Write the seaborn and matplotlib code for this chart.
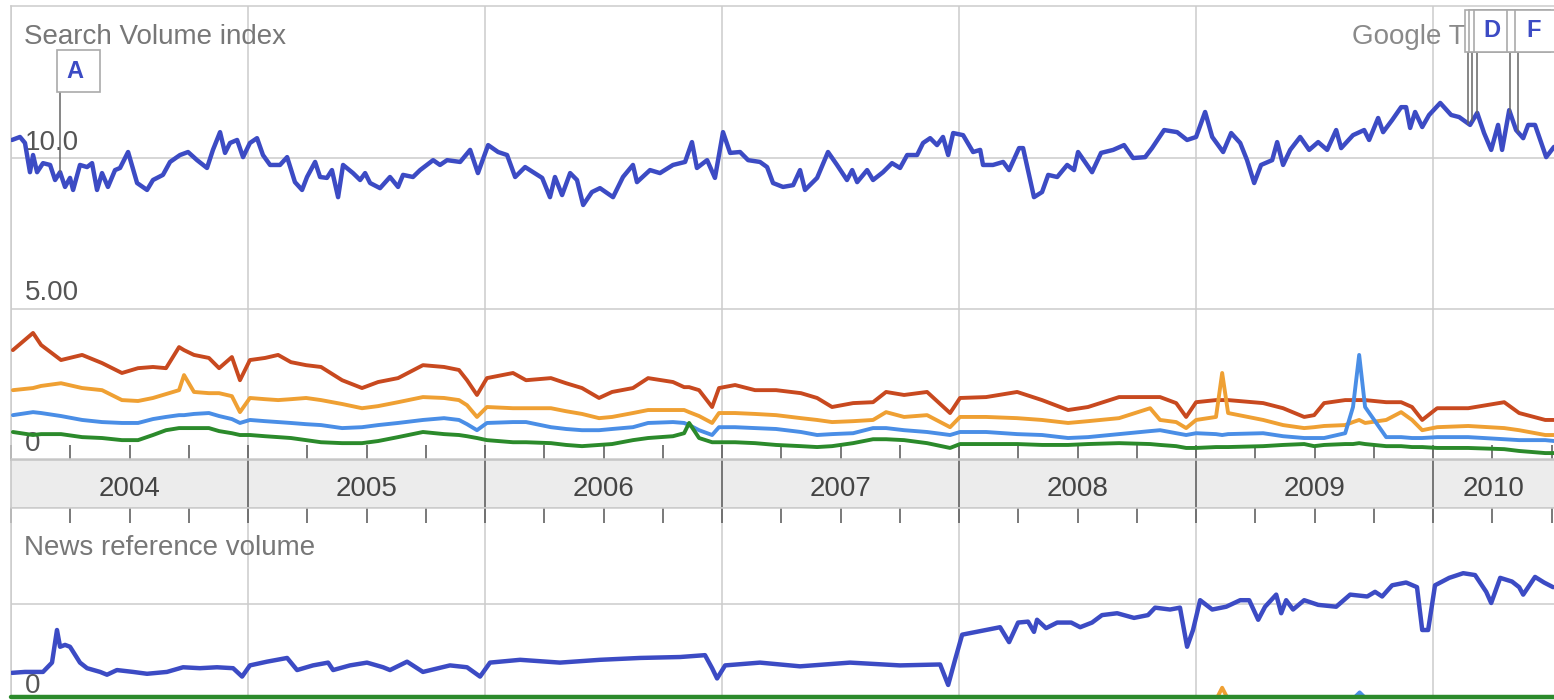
import numpy as np
import matplotlib
matplotlib.use("Agg")
import matplotlib.pyplot as plt
from matplotlib.patches import Rectangle
from matplotlib.ticker import MultipleLocator
import seaborn as sns

# series colours (old Google Trends palette)
BLUE = "#3c4bc4"
RED = "#c8491f"
ORANGE = "#efa033"
LIGHT_BLUE = "#4a8ee6"
GREEN = "#2b8a2b"
GRID = "#cccccc"

# --- Search Volume index, main term (decimal years / index value) ---
SEARCH_T = [
    2004.004, 2004.038, 2004.059, 2004.080, 2004.093, 2004.110, 2004.135, 2004.165, 2004.186, 2004.207,
    2004.228, 2004.249, 2004.262, 2004.291, 2004.321, 2004.342, 2004.363, 2004.384, 2004.409, 2004.439,
    2004.460, 2004.494, 2004.532, 2004.574, 2004.599, 2004.641, 2004.671, 2004.713, 2004.747, 2004.785,
    2004.827, 2004.852, 2004.882, 2004.903, 2004.924, 2004.954, 2004.979,
    2005.008, 2005.038, 2005.063, 2005.093, 2005.135, 2005.165, 2005.198, 2005.228, 2005.249, 2005.283,
    2005.304, 2005.333, 2005.354, 2005.380, 2005.401, 2005.443, 2005.473, 2005.494, 2005.515, 2005.557,
    2005.599, 2005.633, 2005.654, 2005.696, 2005.726, 2005.781, 2005.810, 2005.840, 2005.895, 2005.937,
    2005.970,
    2006.013, 2006.055, 2006.093, 2006.127, 2006.169, 2006.203, 2006.241, 2006.274, 2006.295, 2006.325,
    2006.359, 2006.388, 2006.414, 2006.451, 2006.485, 2006.540, 2006.582, 2006.624, 2006.641, 2006.696,
    2006.738, 2006.793, 2006.844, 2006.873, 2006.894, 2006.937, 2006.970,
    2007.004, 2007.034, 2007.076, 2007.110, 2007.160, 2007.190, 2007.215, 2007.257, 2007.300, 2007.329,
    2007.350, 2007.401, 2007.447, 2007.485, 2007.527, 2007.549, 2007.570, 2007.612, 2007.637, 2007.679,
    2007.717, 2007.751, 2007.781, 2007.823, 2007.848, 2007.878, 2007.907, 2007.932, 2007.954, 2007.975,
    2008.017, 2008.059, 2008.089, 2008.101, 2008.143, 2008.186, 2008.211, 2008.253, 2008.270, 2008.316,
    2008.350, 2008.376, 2008.414, 2008.456, 2008.485, 2008.502, 2008.561, 2008.599, 2008.650, 2008.696,
    2008.734, 2008.785, 2008.814, 2008.865, 2008.920, 2008.962,
    2009.000, 2009.038, 2009.068, 2009.114, 2009.148, 2009.186, 2009.215, 2009.245, 2009.274, 2009.321,
    2009.342, 2009.367, 2009.397, 2009.439, 2009.477, 2009.515, 2009.553, 2009.591, 2009.612, 2009.662,
    2009.709, 2009.730, 2009.768, 2009.789, 2009.827, 2009.865, 2009.886, 2009.903, 2009.924, 2009.954,
    2009.983,
    2010.030, 2010.076, 2010.110, 2010.156, 2010.186, 2010.215, 2010.245, 2010.274, 2010.291, 2010.321,
    2010.350, 2010.380, 2010.401, 2010.430, 2010.477, 2010.510,
]
SEARCH_V = [
    10.60, 10.70, 10.50, 9.53, 10.10, 9.53, 9.83, 9.77, 9.27, 9.53,
    9.04, 9.34, 8.94, 9.77, 9.70, 9.83, 8.94, 9.50, 9.04, 9.60,
    9.67, 10.20, 9.17, 8.94, 9.27, 9.44, 9.87, 10.10, 10.20, 9.93,
    9.67, 10.27, 10.86, 10.17, 10.50, 10.60, 10.03,
    10.50, 10.66, 10.10, 9.77, 9.77, 10.03, 9.20, 8.94, 9.37, 9.87,
    9.37, 9.34, 9.60, 8.70, 9.77, 9.50, 9.27, 9.50, 9.17, 9.00,
    9.37, 9.04, 9.44, 9.37, 9.60, 9.93, 9.77, 9.93, 9.87, 10.27,
    9.50,
    10.43, 10.20, 10.10, 9.37, 9.70, 9.53, 9.34, 8.70, 9.37, 8.77,
    9.50, 9.27, 8.44, 8.87, 9.00, 8.70, 9.37, 9.77, 9.20, 9.60,
    9.50, 9.77, 9.87, 10.53, 9.67, 9.93, 9.34,
    10.86, 10.17, 10.20, 9.93, 9.87, 9.70, 9.17, 9.04, 9.10, 9.60,
    8.94, 9.34, 10.20, 9.77, 9.27, 9.60, 9.20, 9.60, 9.27, 9.53,
    9.83, 9.67, 10.10, 10.10, 10.50, 10.66, 10.43, 10.70, 10.10, 10.83,
    10.76, 10.20, 10.27, 9.77, 9.77, 9.87, 9.60, 10.33, 10.33, 8.70,
    8.87, 9.44, 9.37, 9.77, 9.60, 10.20, 9.53, 10.17, 10.27, 10.43,
    10.00, 10.03, 10.33, 10.93, 10.86, 10.60,
    10.70, 11.53, 10.70, 10.20, 10.83, 10.50, 9.93, 9.17, 9.77, 9.93,
    10.53, 9.77, 10.27, 10.70, 10.27, 10.53, 10.27, 10.93, 10.33, 10.76,
    10.93, 10.60, 11.33, 10.86, 11.26, 11.69, 11.69, 11.00, 11.53, 11.03,
    11.43,
    11.83, 11.43, 11.36, 11.10, 11.50, 10.83, 10.27, 11.10, 10.27, 11.59,
    10.93, 10.66, 11.10, 11.10, 10.03, 10.37,
]

# --- the four smaller terms, sampled on one shared date list ---
LOW_T = [
    2004.008, 2004.093, 2004.127, 2004.211, 2004.300, 2004.384, 2004.468, 2004.536, 2004.599, 2004.654,
    2004.709, 2004.730, 2004.772, 2004.835, 2004.878, 2004.932, 2004.966,
    2005.008, 2005.072, 2005.127, 2005.181, 2005.245, 2005.308, 2005.397, 2005.481, 2005.549, 2005.633,
    2005.738, 2005.827, 2005.890, 2005.924, 2005.966,
    2006.008, 2006.118, 2006.173, 2006.278, 2006.342, 2006.409, 2006.481, 2006.536, 2006.624, 2006.688,
    2006.793, 2006.840, 2006.861, 2006.903, 2006.958, 2006.987,
    2007.055, 2007.139, 2007.228, 2007.333, 2007.401, 2007.464, 2007.553, 2007.637, 2007.692, 2007.768,
    2007.865, 2007.962,
    2008.004, 2008.114, 2008.245, 2008.350, 2008.460, 2008.544, 2008.675, 2008.806, 2008.848, 2008.916,
    2008.958,
    2009.000, 2009.084, 2009.110, 2009.135, 2009.283, 2009.367, 2009.456, 2009.498, 2009.540, 2009.629,
    2009.662, 2009.688, 2009.713, 2009.802, 2009.865, 2009.911, 2009.954,
    2010.017, 2010.148, 2010.300, 2010.363, 2010.473, 2010.511,
]
RED_V = [
    3.62, 4.19, 3.79, 3.29, 3.46, 3.19, 2.86, 3.02, 3.06, 3.02, 3.72, 3.62, 3.46, 3.36, 3.02, 3.39, 2.62,
    3.29, 3.36, 3.46, 3.22, 3.12, 3.06, 2.62, 2.36, 2.56, 2.69, 3.12, 3.06, 2.96, 2.62, 2.13,
    2.69, 2.86, 2.62, 2.69, 2.52, 2.36, 2.03, 2.23, 2.36, 2.69, 2.56, 2.39, 2.39, 2.29, 1.73, 2.36,
    2.46, 2.29, 2.29, 2.19, 2.03, 1.73, 1.86, 1.89, 2.23, 2.13, 2.23, 1.53,
    2.03, 2.06, 2.23, 1.96, 1.63, 1.73, 2.06, 2.06, 2.06, 1.86, 1.40,
    1.89, 1.96, 1.96, 1.96, 1.86, 1.69, 1.40, 1.46, 1.86, 1.96, 1.96, 1.96, 1.96, 1.89, 1.89, 1.73, 1.30,
    1.69, 1.69, 1.89, 1.53, 1.30, 1.30,
]
ORANGE_V = [
    2.29, 2.36, 2.43, 2.52, 2.36, 2.29, 1.96, 1.93, 2.03, 2.16, 2.29, 2.79, 2.23, 2.19, 2.19, 2.09, 1.56,
    2.03, 1.99, 1.96, 1.99, 2.03, 1.96, 1.83, 1.69, 1.76, 1.89, 2.06, 2.03, 1.96, 1.79, 1.40,
    1.73, 1.69, 1.69, 1.69, 1.59, 1.50, 1.36, 1.40, 1.53, 1.63, 1.63, 1.63, 1.56, 1.43, 1.20, 1.53,
    1.53, 1.50, 1.46, 1.36, 1.30, 1.23, 1.26, 1.30, 1.56, 1.40, 1.46, 1.06,
    1.40, 1.40, 1.36, 1.30, 1.20, 1.26, 1.36, 1.69, 1.30, 1.23, 1.03,
    1.30, 1.40, 2.86, 1.53, 1.30, 1.13, 1.03, 1.06, 1.10, 1.13, 1.23, 1.30, 1.20, 1.30, 1.56, 1.30, 0.96,
    1.06, 1.10, 1.03, 0.96, 0.80, 0.80,
]
LIGHT_BLUE_V = [
    1.46, 1.56, 1.53, 1.43, 1.30, 1.23, 1.20, 1.20, 1.33, 1.40, 1.46, 1.46, 1.50, 1.53, 1.43, 1.33, 1.20,
    1.30, 1.26, 1.23, 1.20, 1.16, 1.13, 1.03, 1.06, 1.13, 1.20, 1.30, 1.36, 1.30, 1.16, 0.96,
    1.20, 1.23, 1.23, 1.06, 1.00, 0.96, 0.96, 1.00, 1.06, 1.20, 1.23, 1.20, 1.13, 0.96, 0.80, 1.06,
    1.06, 1.03, 1.00, 0.90, 0.80, 0.83, 0.86, 1.03, 1.03, 0.96, 0.90, 0.80,
    0.90, 0.90, 0.83, 0.80, 0.70, 0.73, 0.83, 0.93, 0.96, 0.86, 0.80,
    0.86, 0.83, 0.80, 0.83, 0.86, 0.76, 0.70, 0.70, 0.70, 0.86, 1.73, 3.46, 1.73, 0.73, 0.73, 0.70, 0.70,
    0.73, 0.73, 0.66, 0.63, 0.63, 0.60,
]
GREEN_V = [
    0.90, 0.80, 0.83, 0.83, 0.73, 0.70, 0.63, 0.63, 0.80, 0.96, 1.03, 1.03, 1.03, 1.03, 0.93, 0.86, 0.80,
    0.80, 0.76, 0.73, 0.70, 0.63, 0.56, 0.53, 0.53, 0.60, 0.73, 0.90, 0.83, 0.80, 0.76, 0.70,
    0.63, 0.56, 0.56, 0.53, 0.47, 0.43, 0.47, 0.50, 0.63, 0.70, 0.76, 0.86, 1.20, 0.70, 0.56, 0.56,
    0.56, 0.53, 0.47, 0.43, 0.40, 0.43, 0.53, 0.66, 0.66, 0.63, 0.53, 0.37,
    0.50, 0.50, 0.50, 0.47, 0.47, 0.50, 0.53, 0.50, 0.47, 0.43, 0.37,
    0.37, 0.40, 0.40, 0.40, 0.43, 0.47, 0.50, 0.43, 0.47, 0.50, 0.50, 0.53, 0.50, 0.43, 0.43, 0.40, 0.40,
    0.37, 0.37, 0.33, 0.27, 0.20, 0.20,
]

# --- News reference volume ---
NEWS_T = [
    2004.004, 2004.059, 2004.135, 2004.173, 2004.194, 2004.207, 2004.228, 2004.249, 2004.291, 2004.321,
    2004.376, 2004.405, 2004.447, 2004.515, 2004.574, 2004.658, 2004.726, 2004.797, 2004.869, 2004.937,
    2004.975,
    2005.008, 2005.080, 2005.165, 2005.207, 2005.274, 2005.338, 2005.359, 2005.430, 2005.502, 2005.570,
    2005.599, 2005.671, 2005.738, 2005.852, 2005.924, 2005.979,
    2006.021, 2006.063, 2006.148, 2006.316, 2006.485, 2006.654, 2006.823, 2006.928, 2006.958, 2006.979,
    2007.013, 2007.160, 2007.329, 2007.540, 2007.751, 2007.920, 2007.954, 2007.983,
    2008.013, 2008.173, 2008.211, 2008.249, 2008.291, 2008.316, 2008.329, 2008.367, 2008.414, 2008.473,
    2008.511, 2008.561, 2008.603, 2008.667, 2008.738, 2008.797, 2008.827, 2008.890, 2008.932, 2008.962,
    2008.987,
    2009.017, 2009.068, 2009.127, 2009.186, 2009.224, 2009.262, 2009.291, 2009.338, 2009.359, 2009.380,
    2009.409, 2009.456, 2009.515, 2009.591, 2009.650, 2009.722, 2009.755, 2009.785, 2009.827, 2009.886,
    2009.932, 2009.954, 2009.979,
    2010.008, 2010.068, 2010.127, 2010.177, 2010.224, 2010.245, 2010.283, 2010.333, 2010.363, 2010.380,
    2010.430, 2010.468, 2010.506,
]
NEWS_V = [
    0.26, 0.27, 0.27, 0.37, 0.72, 0.54, 0.56, 0.54, 0.37, 0.31,
    0.27, 0.24, 0.29, 0.27, 0.25, 0.27, 0.32, 0.31, 0.32, 0.31,
    0.22,
    0.34, 0.38, 0.42, 0.29, 0.34, 0.37, 0.29, 0.34, 0.37, 0.32,
    0.29, 0.38, 0.27, 0.34, 0.32, 0.22,
    0.37, 0.38, 0.40, 0.37, 0.40, 0.42, 0.43, 0.45, 0.31, 0.20,
    0.34, 0.37, 0.33, 0.37, 0.34, 0.35, 0.13, 0.40,
    0.67, 0.75, 0.59, 0.80, 0.81, 0.70, 0.83, 0.74, 0.80, 0.80,
    0.75, 0.80, 0.88, 0.90, 0.85, 0.88, 0.96, 0.94, 0.96, 0.54,
    0.72,
    1.04, 0.94, 0.97, 1.04, 1.04, 0.83, 0.97, 1.10, 0.90, 1.04,
    0.94, 1.04, 0.99, 0.97, 1.10, 1.08, 1.13, 1.08, 1.20, 1.23,
    1.18, 0.72, 0.72,
    1.20, 1.28, 1.33, 1.31, 1.13, 1.01, 1.28, 1.24, 1.18, 1.10,
    1.29, 1.23, 1.18,
]
NEWS_SMALL_T = [2004.0, 2009.09, 2009.11, 2009.13, 2009.67, 2009.69, 2009.71, 2010.51]
NEWS_ORANGE_V = [0.0, 0.0, 0.10, 0.0, 0.0, 0.0, 0.0, 0.0]
NEWS_LIGHT_BLUE_V = [0.0, 0.0, 0.0, 0.0, 0.0, 0.05, 0.0, 0.0]
NEWS_GREEN_V = [0.0, 0.0, 0.0, 0.0, 0.0, 0.0, 0.0, 0.0]

# event flags
FLAG_LETTERS = ["A", "B", "C", "D", "E", "F"]
FLAG_DATES = [2004.207, 2010.148, 2010.165, 2010.186, 2010.325, 2010.359]
FLAG_LEVELS = [0, 1, 1, 1, 1, 1]

SEARCH_TICKS = [0, 5, 10]
SEARCH_TICK_LABELS = ["0", "5.00", "10.0"]
YEARS = [2004, 2005, 2006, 2007, 2008, 2009, 2010]
X_MIN, X_MAX = 2004.0, 2010.51

sns.set_style("white")
plt.rcParams["font.family"] = ["Liberation Sans", "DejaVu Sans"]

W, H = 1554, 700
fig = plt.figure(figsize=(W / 100, H / 100), dpi=100)


def px_axes(left, top, right, bottom):
    return fig.add_axes([left / W, 1 - bottom / H, (right - left) / W, (bottom - top) / H])


ax_top = px_axes(11, 6, 1554, 460)
ax_band = px_axes(11, 460, 1554, 508)
ax_news = px_axes(11, 508, 1554, 698)


def style_panel(ax, tick_side):
    ax.set_xlim(X_MIN, X_MAX)
    ax.xaxis.set_major_locator(MultipleLocator(1))
    ax.xaxis.set_minor_locator(MultipleLocator(0.25))
    ax.grid(True, which="major", color=GRID, lw=1.1)
    ax.tick_params(axis="x", which="both", direction="in", length=10.5, width=1.1,
                   color="#555555", labelbottom=False, labeltop=False,
                   bottom=(tick_side == "bottom"), top=(tick_side == "top"))
    ax.tick_params(axis="y", length=0, labelleft=False)
    for side in ["top", "left", "bottom"]:
        ax.spines[side].set_color(GRID)
        ax.spines[side].set_linewidth(1.1)
    ax.spines["right"].set_visible(False)
    ax.set_xlabel("")
    ax.set_ylabel("")


# top panel: search volume
for vals, col, z in [(RED_V, RED, 3), (ORANGE_V, ORANGE, 3.1),
                     (LIGHT_BLUE_V, LIGHT_BLUE, 3.2), (GREEN_V, GREEN, 3.3)]:
    sns.lineplot(x=LOW_T, y=vals, ax=ax_top, color=col, linewidth=2.8,
                 estimator=None, sort=False, zorder=z)
sns.lineplot(x=SEARCH_T, y=SEARCH_V, ax=ax_top, color=BLUE, linewidth=3.2,
             estimator=None, sort=False, zorder=3.5)

ax_top.set_ylim(-0.03, 15.05)
ax_top.set_yticks(SEARCH_TICKS)
style_panel(ax_top, "bottom")

ytrans = ax_top.get_yaxis_transform()
for v, lab in zip(SEARCH_TICKS, SEARCH_TICK_LABELS):
    ax_top.text(0.009, v + 0.27, lab, transform=ytrans, fontsize=20,
                color="#555555", va="baseline", zorder=2)
ax_top.text(0.0085, 0.916, "Search Volume index", transform=ax_top.transAxes,
            fontsize=20, color="#777777", va="baseline", zorder=2)

# flags with poles down to the line
FLAG_BASE = [12.19, 13.52]
FLAG_W, FLAG_H = 0.181, 1.40
flag_lefts = [t - 0.012 for t in FLAG_DATES]

# the brand text runs under the flag stack; clip it where the first flag starts
brand = ax_top.text(0.869, 0.916, "Google Trends", transform=ax_top.transAxes,
                    fontsize=20, color="#8a8a8a", va="baseline", zorder=4)
clip = Rectangle((X_MIN, 0), flag_lefts[1] - X_MIN, 15.05, transform=ax_top.transData,
                 visible=False)
ax_top.add_patch(clip)
brand.set_clip_path(clip)

for i, (letter, t, level) in enumerate(zip(FLAG_LETTERS, FLAG_DATES, FLAG_LEVELS)):
    base = FLAG_BASE[level]
    left = flag_lefts[i]
    ax_top.plot([t, t], [np.interp(t, SEARCH_T, SEARCH_V), base],
                color="#666666", lw=1.1, zorder=4)
    ax_top.add_patch(Rectangle((left, base), FLAG_W, FLAG_H, facecolor="white",
                               edgecolor="#aaaaaa", lw=1.2, zorder=5 + 2 * i))
    # a flag almost fully covered by the next one shows only its edge
    covered = (i + 1 < len(FLAG_DATES) and FLAG_LEVELS[i + 1] == level
               and flag_lefts[i + 1] - left < FLAG_W * 0.5)
    if not covered:
        ax_top.text(left + FLAG_W * 0.42, base + FLAG_H / 2, letter, ha="center",
                    va="center", fontsize=17, fontweight="bold", color=BLUE,
                    zorder=6 + 2 * i)

# year band
ax_band.set_facecolor("#ececec")
ax_band.set_xlim(X_MIN, X_MAX)
ax_band.set_ylim(0, 1)
ax_band.set_xticks([])
ax_band.set_yticks([])
for side in ["top", "left", "bottom"]:
    ax_band.spines[side].set_color("#c4c4c4")
    ax_band.spines[side].set_linewidth(1.1)
ax_band.spines["right"].set_visible(False)
ax_band.vlines(YEARS[1:], 0, 1, color="#555555", lw=1.1)
for y in YEARS:
    lo, hi = max(y, X_MIN), min(y + 1, X_MAX)
    ax_band.text((lo + hi) / 2, 0.25, str(y), ha="center", va="baseline",
                 fontsize=20, color="#444444")

# bottom panel: news reference volume
sns.lineplot(x=NEWS_SMALL_T, y=NEWS_ORANGE_V, ax=ax_news, color=ORANGE, linewidth=2.8,
             estimator=None, sort=False, zorder=3)
sns.lineplot(x=NEWS_SMALL_T, y=NEWS_LIGHT_BLUE_V, ax=ax_news, color=LIGHT_BLUE, linewidth=2.8,
             estimator=None, sort=False, zorder=3.1)
sns.lineplot(x=NEWS_SMALL_T, y=NEWS_GREEN_V, ax=ax_news, color=GREEN, linewidth=3.2,
             estimator=None, sort=False, zorder=3.2, clip_on=False)
sns.lineplot(x=NEWS_T, y=NEWS_V, ax=ax_news, color=BLUE, linewidth=3.2,
             estimator=None, sort=False, zorder=3.5)
ax_news.set_ylim(-0.01, 2.03)
ax_news.set_yticks([0, 1])
style_panel(ax_news, "top")
ax_news.text(0.009, 0.04, "0", transform=ax_news.get_yaxis_transform(), fontsize=20,
             color="#555555", va="baseline", zorder=2)
ax_news.text(0.0085, 0.753, "News reference volume", transform=ax_news.transAxes,
             fontsize=20, color="#777777", va="baseline", zorder=2)

fig.savefig("out.png", dpi=100, facecolor="white")
